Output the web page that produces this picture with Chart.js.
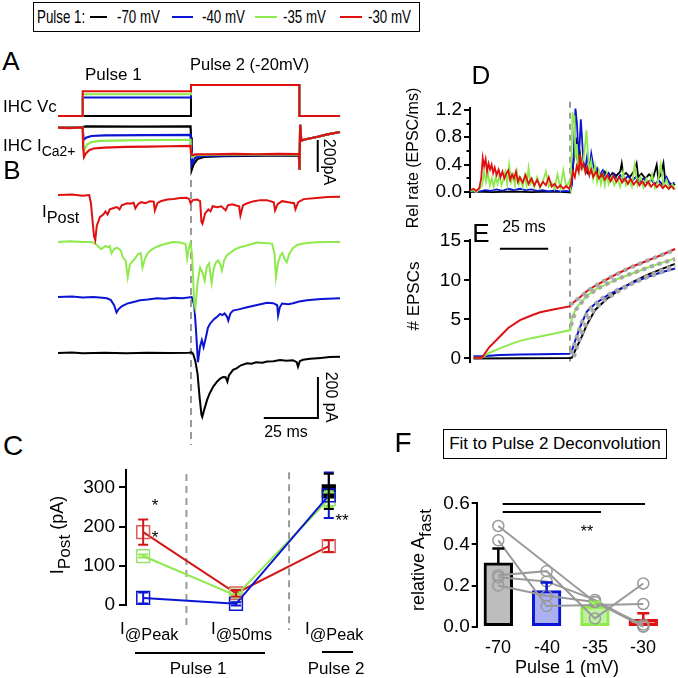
<!DOCTYPE html>
<html><head><meta charset="utf-8">
<script src="https://cdn.jsdelivr.net/npm/chart.js@4.4.1/dist/chart.umd.min.js"></script>
<style>
body{margin:0;width:678px;height:678px;background:#fff;position:relative;overflow:hidden;font-family:"Liberation Sans",Arial,sans-serif;color:#000}
canvas{position:absolute}
.t{position:absolute;white-space:nowrap;line-height:1}
sub{font-size:82%;vertical-align:baseline;position:relative;top:0.38em}
sub.big{font-size:96%}
.hl{position:absolute;background:#000}
</style></head><body>
<script>
// ---------------- DATA ----------------
const seriesNames = ['-70 mV','-40 mV','-35 mV','-30 mV'];
const pulse1Levels = [-70,-40,-35,-30];     // mV
const holdLevel = -70, pulse2Level = -20;   // mV
const vcTimes = [-11.4,0,0,50,50,100,100,118.8]; // ms

// Panel A: IHC ICa2+ (ms, pA)
const icaBlack = [[-11.4,0],[0,0],[0.3,6],[2,8],[25,7],[49.8,8],[50,-60],[50.3,-265],[51.2,-230],[53,-195],[56,-183],[65,-178],[85,-175],[99.8,-174],[100.1,-262],[100.4,18],[100.9,-80],[103,-72],[108,-58],[113,-42],[118.8,-27]];
const icaBlue  = [[-11.4,0],[0,0],[0.4,-77],[1.5,-62],[4,-52],[10,-48],[30,-46],[49.8,-45],[50,-120],[50.4,-230],[52,-185],[56,-176],[80,-172],[99.8,-171],[100.1,-262],[100.4,18],[100.9,-80],[103,-72],[108,-58],[113,-42],[118.8,-27]];
const icaGreen = [[-11.4,0],[0,0],[0.3,-110],[0.8,-140],[2,-105],[4,-90],[8,-82],[20,-79],[35,-77],[49.8,-76],[50,-150],[50.5,-185],[52,-172],[60,-169],[80,-168],[99.8,-167],[100.1,-262],[100.4,18],[100.9,-80],[103,-72],[108,-58],[113,-42],[118.8,-27]];
const icaRed   = [[-11.4,0],[-6,-3],[-1,2],[0,0],[0.2,-120],[0.6,-183],[1.5,-160],[3,-140],[5,-130],[10,-124],[20,-120],[30,-118],[40,-116],[49.8,-114],[50,-160],[50.5,-172],[52,-167],[60,-166],[70,-164],[80,-166],[90,-163],[99.8,-165],[100.1,-262],[100.4,18],[100.9,-80],[103,-72],[108,-58],[113,-42],[118.8,-27]];

// Panel B: IPost (ms, pA)
const postRed = [[-11.4,0],[-5,2],[0,-3],[3.0,0],[3.8,-40],[5.2,-200],[5.8,-220],[6.5,-150],[8,-107],[9.5,-95],[10.5,-80],[11.5,-95],[12.5,-70],[14,-65],[15.8,-59],[17,-70],[18,-50],[20.5,-40],[22,-42],[23.5,-38],[24.3,-65],[25.5,-45],[27,-35],[29,-40],[31,-30],[32.8,-32],[33.3,-75],[34.5,-40],[36,-30],[39,-22],[42,-20],[45,-15],[48,-14],[49.2,-20],[49.8,-40],[50.8,-25],[52.8,-22],[54.2,-30],[54.8,-130],[55.3,-140],[56.5,-90],[58,-70],[59,-80],[60,-55],[62,-60],[64,-55],[66,-75],[67,-50],[69,-45],[70.5,-50],[72.2,-55],[72.8,-100],[74,-50],[76,-40],[79,-30],[82,-25],[85,-25],[88.2,-35],[88.8,-75],[90,-45],[92,-30],[95,-35],[97.6,-40],[98.2,-70],[99.5,-35],[102,-20],[108,-15],[113,-10],[118.8,-8]];
const postGreen = [[-11.4,0],[-6,3],[0,0],[4,0],[5,-5],[6.5,-15],[8.5,-35],[9.5,-28],[10.5,-20],[11.5,-25],[12.5,-20],[13.3,-55],[14.5,-35],[15.8,-28],[17.5,-40],[18.5,-75],[19.8,-90],[20.8,-172],[21.8,-110],[23,-95],[24.2,-80],[25.5,-60],[26.8,-55],[27.6,-125],[28.8,-80],[30,-55],[31.5,-40],[33,-30],[35,-20],[38,-10],[41.7,0],[45,-3],[47.5,-10],[48.2,-80],[49,-30],[49.7,-5],[50.5,-60],[51.5,-300],[52,-323],[53,-200],[54.2,-125],[55.3,-150],[56.3,-190],[57.3,-120],[58.3,-105],[59.5,-200],[60.5,-130],[61.5,-100],[62.5,-90],[63.5,-110],[64.3,-140],[65.3,-90],[66.6,-65],[68.5,-50],[70.5,-35],[72.6,-26],[75,-20],[78,-10],[80.5,-3],[84,-5],[87.4,-8],[88.6,-60],[89.2,-172],[90.2,-100],[91.3,-65],[92.2,-55],[93.3,-85],[94.2,-100],[95.3,-60],[97,-30],[99,-15],[101.7,-8],[106,-3],[112,0],[118.8,0]];
const postBlue = [[-11.4,0],[-5,3],[0,-2],[5,0],[9,-3],[11.2,-6],[13,-15],[14.5,-40],[15.6,-75],[16.5,-60],[18,-45],[20.5,-32],[23,-25],[26.5,-16],[30,-12],[34.3,-6],[38,-8],[42,-4],[46,-6],[50.3,0],[51.5,-40],[52.3,-160],[53.2,-318],[54.2,-240],[55,-210],[55.8,-245],[56.8,-200],[57.8,-150],[58.8,-130],[60,-115],[61.1,-104],[62.2,-95],[63.4,-82],[64.5,-88],[65.5,-80],[66.6,-95],[67.2,-115],[68.2,-80],[69.4,-66],[72,-60],[75.9,-50],[80,-40],[85.1,-28],[88,-30],[89.8,-40],[90.2,-90],[91,-50],[92,-32],[95,-35],[97.1,-30],[100,-22],[103.5,-16],[110,-10],[118.8,-6]];
const postBlack = [[-11.4,0],[-5,2],[0,-1],[10,1],[20,-1],[30,1],[40,0],[49,1],[50.3,3],[51,-5],[52,-40],[53,-100],[54,-220],[54.8,-300],[55.2,-312],[56,-280],[57.4,-230],[58.5,-200],[60.2,-165],[62,-140],[63.5,-125],[64.8,-117],[66,-118],[66.8,-140],[67.5,-110],[69.4,-82],[71,-75],[73,-60],[75.9,-50],[78,-52],[80,-45],[83,-48],[85.1,-42],[88,-40],[91.1,-34],[94,-38],[97,-35],[98.8,-45],[99.4,-67],[100.2,-40],[101.7,-33],[105,-28],[110,-24],[114,-20],[118.8,-18]];

// Panel C: IPost summary (pA)
const cCategories = ['I@Peak','I@50ms','I@Peak'];
const cRed = [186,30,150], cRedErr = [32,8,15];
const cGreen = [125,24,270], cGreenErr = [4,4,20];
const cBlue = [18,3,280], cBlueErr = [14,4,58];
const cBlack = [null,null,290], cBlackErr = [null,null,45];

// Panel D: release rate (ms, EPSC/ms)
const rateRed = [[-1.5,0.03],[0,0.05],[1.5,0.02],[3,0.06],[4,0.2],[4.8,0.5],[5.5,0.38],[6.3,0.48],[7,0.3],[7.8,0.42],[8.6,0.33],[9.4,0.4],[10.2,0.28],[11,0.36],[12,0.25],[13,0.33],[14,0.22],[15,0.3],[16,0.2],[17,0.27],[18,0.32],[19,0.18],[20,0.26],[21,0.2],[22,0.3],[23,0.15],[24,0.22],[25.5,0.14],[27,0.25],[28.5,0.12],[30,0.2],[31.5,0.1],[33,0.18],[34.5,0.08],[36,0.15],[37.5,0.1],[39,0.22],[40.5,0.08],[42,0.12],[43.5,0.06],[45,0.1],[46.5,0.05],[48,0.09],[49.5,0.05],[50.5,0.12],[51.5,0.3],[52.5,0.22],[53.5,0.38],[54.5,0.3],[55.2,0.55],[56,0.35],[57,0.42],[58,0.28],[59,0.36],[60,0.25],[61,0.33],[62,0.22],[63.5,0.3],[65,0.2],[66.5,0.27],[68,0.18],[69.5,0.25],[71,0.16],[72.5,0.24],[74,0.15],[75.5,0.22],[77,0.14],[78.5,0.2],[80,0.12],[81.5,0.19],[83,0.11],[84.5,0.17],[86,0.1],[87.5,0.16],[89,0.09],[90.5,0.15],[92,0.08],[93.5,0.13],[95,0.07],[96.5,0.12],[98,0.06],[99.5,0.1],[101,0.05],[102.5,0.09],[104,0.04]];
const rateGreen = [[-1.5,0.01],[0,0.03],[1.5,0.0],[3,0.04],[4.5,0.1],[5.5,0.3],[6.5,0.15],[7.5,0.28],[8.5,0.1],[9.5,0.2],[10.5,0.08],[11.5,0.22],[12.5,0.12],[13.5,0.26],[14.5,0.1],[15.5,0.18],[16.5,0.3],[17.5,0.12],[18.5,0.4],[19.5,0.15],[20.5,0.25],[21.5,0.1],[22.5,0.3],[23.5,0.12],[24.5,0.2],[25.5,0.08],[26.5,0.24],[27.5,0.1],[28.5,0.35],[29.5,0.12],[30.5,0.18],[31.5,0.07],[33,0.22],[34.5,0.06],[36,0.16],[37.5,0.3],[39,0.08],[40.5,0.14],[42,0.05],[43.5,0.26],[45,0.06],[46.5,0.32],[48,0.08],[49.5,0.15],[50.3,0.05],[50.8,0.6],[51.3,1.17],[51.8,1.0],[52.3,1.12],[52.8,0.5],[53.5,0.7],[54.5,0.3],[55.5,0.45],[56.5,0.35],[57.5,0.6],[58.5,0.9],[59.3,0.55],[60,0.3],[61,0.45],[62,0.2],[63,0.38],[64,0.15],[65,0.3],[66,0.12],[67,0.25],[68,0.1],[69,0.28],[70,0.12],[71.5,0.22],[73,0.1],[74.5,0.2],[76,0.08],[77.5,0.3],[79,0.1],[80.5,0.18],[82,0.08],[83.5,0.4],[85,0.1],[86.5,0.22],[88,0.07],[89.5,0.2],[91,0.1],[92.5,0.26],[94,0.06],[95.5,0.15],[97,0.4],[98.5,0.08],[100,0.18],[101.5,0.05],[103,0.12],[104.5,0.04]];
const rateBlue = [[-1.5,0.0],[0,0.02],[3,0.01],[6,0.03],[9,0.02],[12,0.04],[15,0.02],[18,0.05],[21,0.03],[24,0.05],[27,0.03],[30,0.04],[33,0.02],[36,0.03],[39,0.01],[42,0.03],[45,0.01],[48,0.02],[50,0.01],[51,0.1],[52,0.6],[52.8,1.23],[53.6,1.0],[54.4,0.55],[55,0.7],[55.6,1.06],[56.2,0.8],[57,0.4],[58,0.35],[59,0.55],[60,0.3],[61,0.56],[62,0.4],[63,0.3],[64,0.35],[65.5,0.25],[67,0.32],[68.5,0.22],[70,0.28],[71.5,0.2],[73,0.26],[74.5,0.18],[76,0.25],[78,0.17],[80,0.24],[82,0.16],[84,0.22],[86,0.15],[88,0.2],[90,0.14],[92,0.18],[94,0.12],[96,0.17],[98,0.11],[100,0.22],[102,0.1],[104,0.14]];
const rateBlack = [[-1.5,0.0],[0,0.01],[10,0.0],[20,0.01],[30,0.0],[40,0.01],[50,0.0],[51,0.2],[52,0.5],[53,0.8],[54,0.45],[55,0.6],[56,0.35],[57.5,0.4],[59,0.28],[60.5,0.35],[62,0.25],[64,0.3],[66,0.22],[68,0.3],[70,0.2],[72,0.28],[74,0.24],[76,0.3],[76.8,0.42],[77.6,0.25],[79,0.28],[81,0.22],[83,0.3],[84.5,0.42],[85.3,0.22],[87,0.27],[89,0.2],[91,0.26],[93,0.2],[94.9,0.4],[95.7,0.2],[97,0.25],[98.4,0.42],[99.2,0.2],[101,0.15],[103,0.1],[104.5,0.12]];

// Panel E: cumulative EPSCs (ms, count)
const cumRed = [[0,0.1],[4.4,0.1],[8,1.4],[13.7,2.8],[18,3.9],[24.1,4.9],[30,5.5],[34.5,5.9],[42,6.3],[49.8,6.66],[50.5,6.9],[55,7.8],[58.7,8.6],[63,9.3],[69,10.1],[75,10.9],[82.6,11.8],[88,12.3],[93,12.8],[98,13.3],[104.4,14.0]];
const cumGreen = [[0,0.1],[4.4,0.1],[8,0.7],[13.7,1.3],[20,1.9],[24.1,2.25],[30,2.6],[34.5,2.8],[42,3.2],[49.8,3.6],[50.3,3.7],[51,5.3],[54,6.7],[58.7,8.0],[63,8.8],[69,9.5],[75,10.2],[82.6,10.9],[90,11.6],[97,12.2],[104.4,12.8]];
const cumBlue = [[0,0.3],[4.4,0.3],[13.7,0.45],[24.1,0.5],[34.5,0.55],[49.8,0.6],[51,1.0],[53,2.5],[55.2,4.0],[58.7,6.0],[63,7.0],[69,8.0],[75,8.8],[82.6,9.7],[90,10.4],[97,11.0],[104.4,11.5]];
const cumBlack = [[0,0],[49.8,0.05],[51,0.1],[53,1.2],[56.1,2.8],[58.7,4.3],[63,6.2],[69,7.6],[75,8.7],[82.6,9.8],[90,10.7],[97,11.4],[104.4,12.1]];
const fitRed = [[50,6.8],[55,7.8],[60,8.8],[66,9.7],[72,10.5],[80,11.5],[88,12.3],[96,13.1],[104.4,13.9]];
const fitGreen = [[50.5,4.2],[53,6.2],[58,7.8],[64,8.9],[72,9.9],[80,10.7],[88,11.4],[96,12.1],[104.4,12.7]];
const fitBlue = [[50.5,0.6],[53,2.4],[56,4.6],[60,6.3],[66,7.6],[74,8.7],[82,9.6],[90,10.4],[97,11.0],[104.4,11.6]];
const fitBlack = [[52,0.2],[54,1.8],[57,3.8],[61,5.8],[67,7.3],[75,8.6],[83,9.7],[91,10.6],[98,11.3],[104.4,11.9]];

// Panel F: relative A_fast
const fCategories = ['-70','-40','-35','-30'];
const fMeans = [0.31,0.175,0.1,0.035];
const fErr = [0.07,0.04,0.02,0.03];
const fCells = [
  [0.49,null,0.12,0.0],
  [0.42,0.10,null,0.11],
  [0.25,0.27,0.04,0.21],
  [0.24,0.22,0.13,0.0],
  [0.20,0.15,0.12,0.01]
];

// ---------------- STYLE / LAYOUT ----------------
const COL = {black:'#000000', blue:'#0a14d2', green:'#8eea4c', red:'#e01010', grey:'#9a9a9a'};
const FONT = '"Liberation Sans", Arial, sans-serif';
const TICK = 19;
Chart.defaults.font.family = FONT;
Chart.defaults.color = '#000';

function mkCanvas(l,t,w,h){
  const c=document.createElement('canvas'); c.width=w; c.height=h;
  c.style.left=l+'px'; c.style.top=t+'px'; c.style.width=w+'px'; c.style.height=h+'px';
  document.body.appendChild(c); return c;
}
function txt(html,x,y,size,mode,extra){
  const d=document.createElement('div'); d.className='t'; d.innerHTML=html;
  d.style.left=x+'px'; d.style.top=y+'px'; d.style.fontSize=size+'px';
  const tr={l:'translate(0,-50%)',c:'translate(-50%,-50%)',rl:'translate(-50%,-50%) rotate(-90deg)',rr:'translate(-50%,-50%) rotate(90deg)'}[mode||'l'];
  d.style.transform=tr+(extra||'');
  if(mode==='l' && extra) d.style.transformOrigin='0 50%';
  document.body.appendChild(d); return d;
}
function hline(x1,x2,y,w){const d=document.createElement('div');d.className='hl';d.style.left=x1+'px';d.style.top=(y-w/2)+'px';d.style.width=(x2-x1)+'px';d.style.height=w+'px';document.body.appendChild(d);return d;}

const baseOpts = () => ({responsive:false, animation:false, devicePixelRatio:1,
  plugins:{legend:{display:false}, tooltip:{enabled:false}},
  elements:{point:{radius:0}, line:{tension:0, borderWidth:1.6}}});

const errPlugin = {id:'errbars', afterDatasetsDraw(chart){
  const ctx=chart.ctx;
  chart.data.datasets.forEach((ds)=>{
    if(!ds.err) return;
    const xs=chart.scales.x, ys=chart.scales.y;
    ds.data.forEach((p,j)=>{
      const e=ds.err[j]; if(e==null||p==null) return;
      const xv=Array.isArray(p)?p[0]:p.x, yv=Array.isArray(p)?p[1]:p.y; if(yv==null) return;
      const x=xs.getPixelForValue(xv), yt=ys.getPixelForValue(yv+e), yb=ys.getPixelForValue(yv-e);
      const cw=ds.capW||5;
      ctx.save(); ctx.strokeStyle=ds.errColor||ds.borderColor; ctx.lineWidth=2; ctx.beginPath();
      ctx.moveTo(x,yt); ctx.lineTo(x,yb); ctx.moveTo(x-cw,yt); ctx.lineTo(x+cw,yt);
      ctx.moveTo(x-cw,yb); ctx.lineTo(x+cw,yb);
      ctx.stroke(); ctx.restore();
    });
  });
}};
// small unlabeled ticks between the labeled ones
const minorTicks = {id:'minorTicks', afterDraw(chart){
  const m=chart.options.minorAt; if(!m) return;
  const ctx=chart.ctx, ys=chart.scales.y, x=chart.chartArea.left;
  ctx.save(); ctx.strokeStyle='#000'; ctx.lineWidth=2; ctx.beginPath();
  m.forEach(v=>{const y=Math.round(ys.getPixelForValue(v)); ctx.moveTo(x,y); ctx.lineTo(x-3.5,y);});
  ctx.stroke(); ctx.restore();
}};

function axisY(min,max,ticks,width,tickLen,pad,fmt,size){
  return {type:'linear', min, max, position:'left',
    afterBuildTicks:s=>{s.ticks=ticks.map(v=>({value:v}));},
    afterFit:s=>{s.width=width;},
    grid:{drawOnChartArea:false, drawTicks:true, tickLength:tickLen, color:'#000', lineWidth:2},
    border:{display:true, color:'#000', width:2},
    ticks:{color:'#000', padding:pad, font:{size:size||TICK, family:FONT}, callback:fmt||(v=>v)}};
}

// ---------------- PANELS A + B (traces) ----------------
(function(){
  const cv=mkCanvas(50,78,300,370);
  const off=[0,-229,-498,-771]; // vertical stacking of IPost traces (red, green, blue, black)
  const shift=(arr,o)=>arr.map(p=>[p[0],p[1]+o]);
  const vc=lvl=>vcTimes.map((t,i)=>[t,[holdLevel,holdLevel,lvl,lvl,pulse2Level,pulse2Level,holdLevel,holdLevel][i]]);
  const L=(data,color,axis,extra)=>Object.assign({data,borderColor:color,yAxisID:axis,borderWidth:2},extra||{});
  const ds=[
    L(vc(pulse1Levels[3]),COL.red,'yV'),
    L(vc(pulse1Levels[2]),COL.green,'yV'),
    L(vc(pulse1Levels[1]),COL.blue,'yV'),
    L(vc(pulse1Levels[0]),COL.black,'yV'),
    L(icaRed,COL.red,'yI',{borderWidth:2.2}),
    L(icaGreen,COL.green,'yI',{borderWidth:2.2}),
    L(icaBlue,COL.blue,'yI',{borderWidth:2.2}),
    L(icaBlack,COL.black,'yI',{borderWidth:2.2}),
    L(shift(postRed,off[0]),COL.red,'yP'),
    L(shift(postGreen,off[1]),COL.green,'yP'),
    L(shift(postBlue,off[2]),COL.blue,'yP'),
    L(shift(postBlack,off[3]),COL.black,'yP'),
    // scale bars
    L([[108.5,-77],[108.5,-277]],'#000','yI'),
    L([[108.6,-888],[108.6,-1088],[83.6,-1088]],'#000','yP'),
    // pulse-2 onset marker
    L([[50,73],[50,-1220]],'#9a9a9a','yP',{borderDash:[7,5]})
  ];
  const o=baseOpts();
  o.layout={padding:0};
  o.scales={x:{type:'linear',display:false,min:-15.1,max:123.4},
    yV:{type:'linear',display:false,min:-605.5,max:-8.7},
    yI:{type:'linear',display:false,min:-2001.9,max:310.6},
    yP:{type:'linear',display:false,min:-1234.6,max:571}};
  new Chart(cv,{type:'line',data:{datasets:ds},options:o});
})();

// ---------------- PANEL C ----------------
(function(){
  const cv=mkCanvas(60,455,300,175);
  const xy=arr=>arr.map((v,i)=>v==null?null:[i,v]).filter(p=>p);
  const S=(vals,err,col,pcol,extra)=>Object.assign({data:xy(vals),err:err.filter(e=>e!=null),borderColor:col,borderWidth:2,
    pointStyle:'rect',pointRadius:9,pointBorderColor:pcol,pointBackgroundColor:'rgba(255,255,255,0)',pointBorderWidth:1.5,capW:5,clip:false},extra||{});
  const ds=[
    S(cBlue,cBlueErr,COL.blue,COL.blue),
    S(cGreen,cGreenErr,COL.green,'#9be070'),
    S(cRed,cRedErr,'#d01818','#e05a5a'),
    S(cBlack,cBlackErr,'#000','#000',{pointBackgroundColor:'#000',pointRadius:9}),
    {data:[[0.466,334],[0.466,-53]],borderColor:'#9a9a9a',borderWidth:2,borderDash:[7,5],clip:false},
    {data:[[1.572,339],[1.572,-116]],borderColor:'#9a9a9a',borderWidth:2,borderDash:[7,5],clip:false}
  ];
  const o=baseOpts();
  o.layout={padding:{top:8,bottom:25,left:0,right:0}};
  o.scales={x:{type:'linear',display:false,min:-0.185,max:2.223},
    y:axisY(0,343.5,[0,100,200,300],66,7,4)};
  new Chart(cv,{type:'line',data:{datasets:ds},options:o,plugins:[errPlugin]});
})();

// ---------------- PANEL D ----------------
(function(){
  const cv=mkCanvas(410,95,268,115);
  const L=(d,c)=>({data:d,borderColor:c,borderWidth:1.8});
  const ds=[L(rateRed,COL.red),L(rateGreen,COL.green),L(rateBlue,COL.blue),L(rateBlack,COL.black),
    {data:[[50,1.318],[50,-0.02]],borderColor:'#9a9a9a',borderWidth:2,borderDash:[6,5],clip:false}];
  const o=baseOpts();
  o.minorAt=[0.2,0.6,1.0];
  o.layout={padding:{top:7.7,bottom:6.7,left:0,right:2}};
  o.scales={x:{type:'linear',display:false,min:-1.8,max:104.9},
    y:axisY(-0.064,1.22,[0,0.4,0.8,1.2],60,6,2,v=>v.toFixed(1))};
  new Chart(cv,{type:'line',data:{datasets:ds},options:o,plugins:[minorTicks]});
})();

// ---------------- PANEL E ----------------
(function(){
  const cv=mkCanvas(410,226,268,150);
  const L=(d,c)=>({data:d,borderColor:c,borderWidth:2});
  const F=d=>({data:d,borderColor:'#a8a8a8',borderWidth:4,borderDash:[4,4]});
  const ds=[F(fitRed),F(fitGreen),F(fitBlue),F(fitBlack),
    L(cumRed,COL.red),L(cumGreen,COL.green),L(cumBlue,COL.blue),L(cumBlack,COL.black),
    {data:[[13.7,14.03],[38.7,14.03]],borderColor:'#000',borderWidth:2},
    {data:[[50,14.3],[50,-0.4]],borderColor:'#9a9a9a',borderWidth:2,borderDash:[6,5],clip:false}];
  const o=baseOpts();
  o.layout={padding:{top:7.3,bottom:8,left:0,right:2}};
  o.scales={x:{type:'linear',display:false,min:-1.8,max:104.9},
    y:axisY(-0.4,15.1,[0,5,10,15],60,6,3)};
  new Chart(cv,{type:'line',data:{datasets:ds},options:o});
})();

// ---------------- PANEL F ----------------
(function(){
  const cv=mkCanvas(416,490,262,150);
  const cellDs=fCells.map(c=>({type:'line',data:c.map((v,i)=>v==null?null:{x:i,y:v}).filter(p=>p),
    borderColor:COL.grey,borderWidth:2,pointRadius:5.5,pointStyle:'circle',pointBorderColor:COL.grey,
    pointBackgroundColor:'rgba(255,255,255,0)',pointBorderWidth:1.5,clip:false}));
  const ds=[...cellDs,
    {type:'line',data:[{x:0.09,y:0.597},{x:3.035,y:0.597}],borderColor:'#000',borderWidth:2,clip:false},
    {type:'line',data:[{x:0.09,y:0.558},{x:2.125,y:0.558}],borderColor:'#000',borderWidth:2,clip:false},
    {type:'bar',data:fMeans.map((v,i)=>({x:i,y:v})),
      backgroundColor:['#bdbdbd','#aab0f2','#bff2a0','#f08a8a'],
      borderColor:['#000',COL.blue,COL.green,COL.red],borderWidth:3,borderSkipped:false,barThickness:28.7}
  ];
  const o=baseOpts();
  o.layout={padding:{top:10,bottom:10,left:0,right:8}};
  o.scales={x:{type:'linear',display:false,min:-0.447,max:3.553,offset:false},
    y:axisY(0,0.6,[0,0.2,0.4,0.6],60.7,5,2,v=>v.toFixed(1))};
  const errF={id:'errF',afterDatasetsDraw(chart){
    const ctx=chart.ctx, xs=chart.scales.x, ys=chart.scales.y;
    const cols=['#000',COL.blue,COL.green,COL.red];
    fMeans.forEach((m,i)=>{const x=xs.getPixelForValue(i), y0=ys.getPixelForValue(m), y1=ys.getPixelForValue(m+fErr[i]);
      ctx.save();ctx.strokeStyle=cols[i];ctx.lineWidth=2.5;ctx.beginPath();ctx.moveTo(x,y0);ctx.lineTo(x,y1);ctx.moveTo(x-6,y1);ctx.lineTo(x+6,y1);ctx.stroke();ctx.restore();});
  }};
  new Chart(cv,{type:'bar',data:{datasets:ds},options:o,plugins:[errF]});
})();

// ---------------- TEXT ----------------
(function(){
  const b=document.createElement('div');
  b.style.cssText='position:absolute;left:33px;top:2px;width:385px;height:28px;border:1.5px solid #000;';
  document.body.appendChild(b);
  const sx=' scaleX(0.74)';
  txt('Pulse 1:',37,17,18,'l',sx);
  const segs=[[90,107,COL.black],[172,193,COL.blue],[255,277,COL.green],[340,362,COL.red]];
  const tx=[117,202,283,368];
  segs.forEach((s,i)=>{const h=hline(s[0],s[1],17,2); h.style.background=s[2]; txt(seriesNames[i],tx[i],17,18,'l',sx);});
})();
txt('A',11,61,26,'c');
txt('Pulse 1',85,74,17,'l');
txt('Pulse 2 (-20mV)',190,64,16.5,'l');
txt('IHC Vc',3,106,17,'l');
txt('IHC I<sub>Ca2+</sub>',3,145,17,'l');
txt('200pA',329,162,16,'rr');
txt('B',12,170,26,'c');
txt('I<sub class="big">Post</sub>',42,211,17,'l');
txt('200 pA',331,397,16,'rr');
txt('25 ms',286,432,16,'c');
txt('C',13,446,28,'c');
txt('I<sub class="big">Post</sub> (pA)',57,535,18,'rl');
txt('I<sub class="big">@Peak</sub>',120,628,17,'l');
txt('I<sub class="big">@50ms</sub>',211,628,17,'l');
txt('I<sub class="big">@Peak</sub>',305,628,17,'l');
hline(135,265,653,2); txt('Pulse 1',198,668,17,'c');
hline(322,353,652,2); txt('Pulse 2',336,668,17,'c');
txt('*',155,505,17,'c'); txt('*',155,537,17,'c'); txt('**',342,520,17,'c');
txt('D',481,75,26,'c');
txt('E',481,233,26,'c');
txt('Rel rate (EPSC/ms)',413,158,16,'rl');
txt('# EPSCs',413,296,17,'rl');
txt('25 ms',524,227,16,'c');
txt('F',403,443,28,'c');
(function(){const b=document.createElement('div');
  b.style.cssText='position:absolute;left:443px;top:429px;width:222px;height:28px;border:1.5px solid #000;font-size:17px;line-height:28px;text-align:center;white-space:nowrap;';
  b.textContent='Fit to Pulse 2 Deconvolution';document.body.appendChild(b);})();
txt('relative A<sub class="big">fast</sub>',418,560,18,'rl');
[498,547,595,643].forEach((x,i)=>txt(fCategories[i],x,647,18,'c'));
txt('Pulse 1 (mV)',567,667,18,'c');
txt('**',587,532,16,'c');
</script>
</body></html>
